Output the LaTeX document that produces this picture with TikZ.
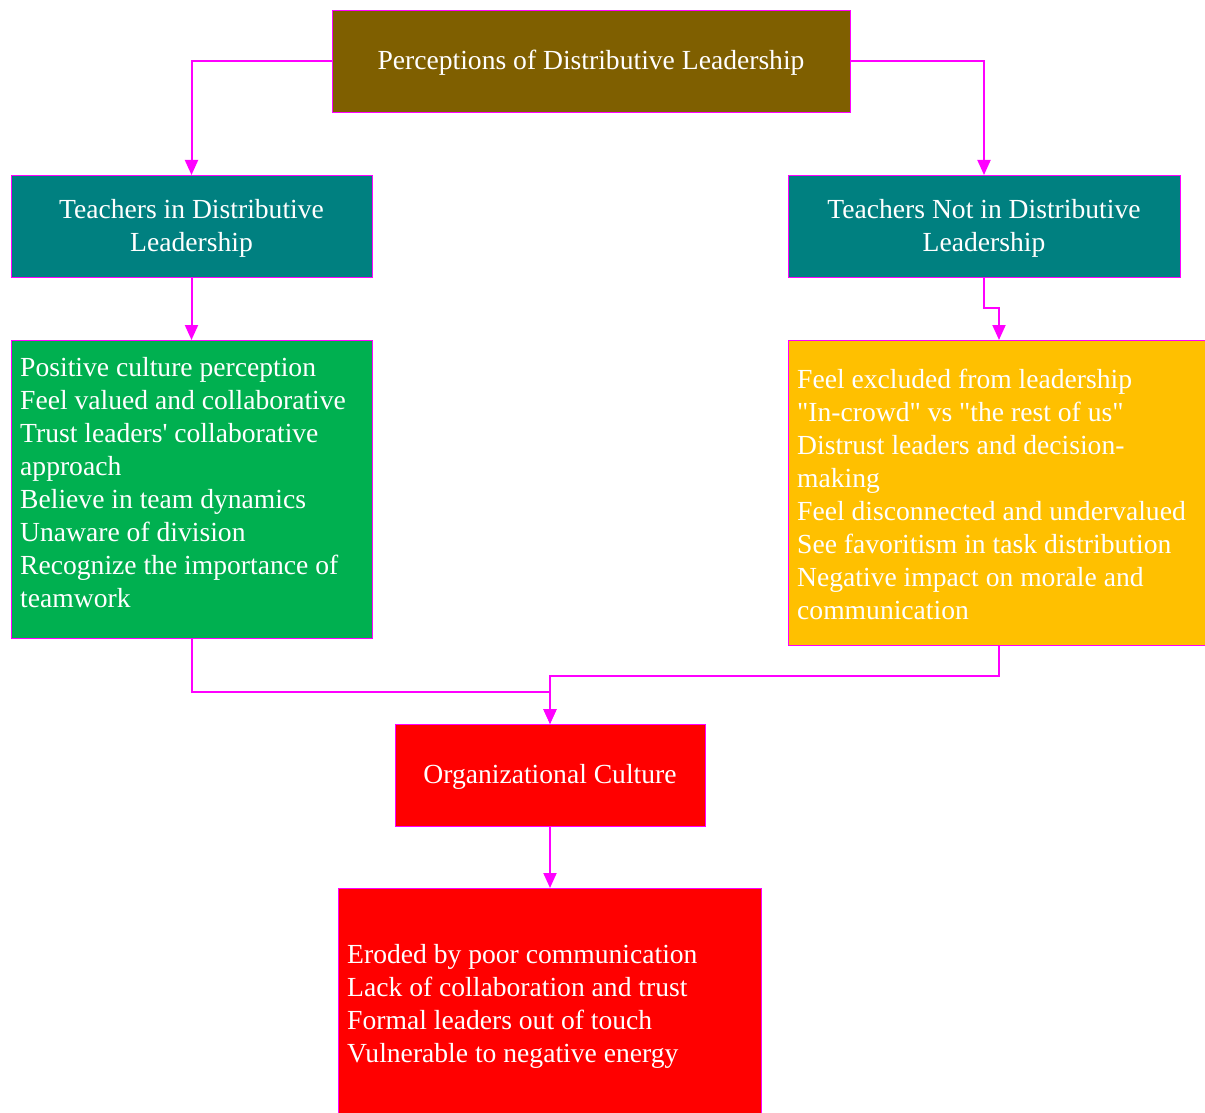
\documentclass[tikz,border=0pt]{standalone}
\usepackage{fontspec}
\setmainfont{Liberation Serif}[Ligatures=TeXOff]
\usetikzlibrary{arrows.meta}
\definecolor{brownbox}{HTML}{7F5F00}
\definecolor{tealbox}{HTML}{008080}
\definecolor{greenbox}{HTML}{00B050}
\definecolor{yellowbox}{HTML}{FFC000}
\definecolor{redbox}{HTML}{FF0000}
\definecolor{edgecol}{HTML}{FF00FF}
\tikzset{
  box/.style={draw=edgecol, line width=0.8pt, inner sep=0pt, outer sep=0pt},
  txt/.style={text=white, font=\fontsize{27.6}{33}\selectfont, inner sep=0pt},
  conn/.style={draw=edgecol, line width=2pt, -{Triangle[length=15pt,width=13pt]}},
}
\begin{document}
\begin{tikzpicture}[x=1pt,y=-1pt]
\useasboundingbox (0,0) rectangle (1205,1113);
% boxes
\node[box, fill=brownbox, minimum width=518pt, minimum height=102pt] (top) at (591,61) {};
\node[txt] (toptxt) at (591,63) {Perceptions of Distributive Leadership};
\node[box, fill=tealbox, minimum width=361pt, minimum height=102pt] (tin) at (191.5,226) {};
\node[txt, align=center] (tintxt) at (191.5,228) {Teachers in Distributive\\Leadership};
\node[box, fill=tealbox, minimum width=392pt, minimum height=102pt] (tnot) at (984,226) {};
\node[txt, align=center] (tnottxt) at (984,228) {Teachers Not in Distributive\\Leadership};
\node[box, fill=greenbox, minimum width=361pt, minimum height=298pt] (pos) at (191.5,489) {};
\node[txt, align=left, anchor=west] (postxt) at (20,483) {Positive culture perception\\Feel valued and collaborative\\Trust leaders' collaborative\\approach\\Believe in team dynamics\\Unaware of division\\Recognize the importance of\\teamwork};
\node[box, fill=yellowbox, minimum width=422pt, minimum height=305pt] (neg) at (999,492.5) {};
\node[txt, align=left, anchor=west] (negtxt) at (797,494) {Feel excluded from leadership\\"In-crowd" vs "the rest of us"\\Distrust leaders and decision-\\making\\Feel disconnected and undervalued\\See favoritism in task distribution\\Negative impact on morale and\\communication};
\node[box, fill=redbox, minimum width=310pt, minimum height=102pt] (org) at (550,775) {};
\node[txt] (orgtxt) at (550,777) {Organizational Culture};
\node[box, fill=redbox, minimum width=423pt, minimum height=234pt] (out) at (550,1005) {};
\node[txt, align=left, anchor=west] (outtxt) at (347,1006) {Eroded by poor communication\\Lack of collaboration and trust\\Formal leaders out of touch\\Vulnerable to negative energy};
% connectors
\draw[conn] (top.west) -| (tin.north);
\draw[conn] (top.east) -| (tnot.north);
\draw[conn] (tin.south) -- (pos.north);
\draw[conn] (tnot.south) -- ++(0,31) -| (neg.north);
\draw[conn] (pos.south) -- ++(0,54) -| (org.north);
\draw[conn] (neg.south) -- ++(0,31) -| (org.north);
\draw[conn] (org.south) -- (out.north);
\end{tikzpicture}
\end{document}
